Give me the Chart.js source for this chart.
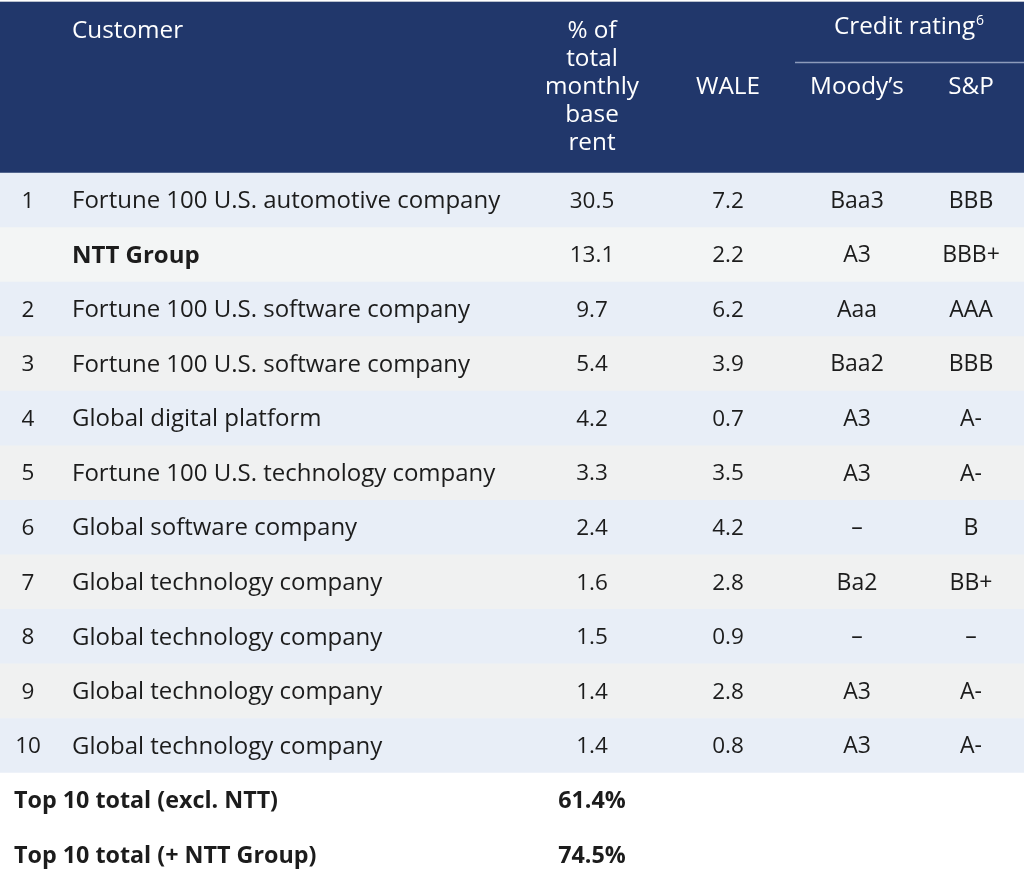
<!DOCTYPE html>
<html>
<head>
<meta charset="utf-8">
<script src="https://cdn.jsdelivr.net/npm/chart.js@4"></script>
<style>
  html, body { margin: 0; padding: 0; background: #ffffff; }
  #wrap { width: 1024px; height: 896px; }
</style>
</head>
<body>
<div id="wrap"><canvas id="c" width="1024" height="896"></canvas></div>
<script>
// ---------- DATA ----------
const ranks     = ['1', '', '2', '3', '4', '5', '6', '7', '8', '9', '10'];
const customers = [
  'Fortune 100 U.S. automotive company',
  'NTT Group',
  'Fortune 100 U.S. software company',
  'Fortune 100 U.S. software company',
  'Global digital platform',
  'Fortune 100 U.S. technology company',
  'Global software company',
  'Global technology company',
  'Global technology company',
  'Global technology company',
  'Global technology company'
];
const pctRent   = ['30.5', '13.1', '9.7', '5.4', '4.2', '3.3', '2.4', '1.6', '1.5', '1.4', '1.4'];
const wale      = ['7.2', '2.2', '6.2', '3.9', '0.7', '3.5', '4.2', '2.8', '0.9', '2.8', '0.8'];
const moodys    = ['Baa3', 'A3', 'Aaa', 'Baa2', 'A3', 'A3', '\u2013', 'Ba2', '\u2013', 'A3', 'A3'];
const sp        = ['BBB', 'BBB+', 'AAA', 'BBB', 'A-', 'A-', 'B', 'BB+', '\u2013', 'A-', 'A-'];
const boldRows  = ['NTT Group'];
const totalLabels = ['Top 10 total (excl. NTT)', 'Top 10 total (+ NTT Group)'];
const totalValues = ['61.4%', '74.5%'];
const headCustomer = 'Customer';
const headPct      = ['% of', 'total', 'monthly', 'base', 'rent'];
const headWale     = 'WALE';
const headCredit   = 'Credit rating';
const headCreditSup = '6';
const headMoodys   = 'Moody\u2019s';
const headSP       = 'S&P';

// ---------- LAYOUT / STYLE ----------
const ROW_PX = 54.55;      // pixel height of one row
const HEAD_TOP_PX = 2;
const HEAD_BOT_PX = 173;
const W = 1024, H = 896;
const NAVY = '#21376b';
const BLUE = '#e8eef7';
const GREY = '#f0f1f1';
const GREY_NTT = '#f3f5f5';
const TEXT = '#1c1c1c';
const FONT = '"Open Sans", Lato, sans-serif';
const FS_HEAD = 24.3, FS_TEXT = 24, FS_NUM = 22.5, FS_RATE = 23, FS_TOT = 23.3, FS_SUP = 14;
const col = { rank: 28, cust: 72, pct: 592, wale: 728, moody: 857, sp: 971, totLabel: 14, credit: 909, lineL: 795, lineR: 1024 };

const nRows = customers.length + totalLabels.length;
const rowColors = [];
for (let i = 0; i < nRows; i++) {
  if (i >= customers.length) rowColors.push('#ffffff');
  else if (i % 2 === 0) rowColors.push(BLUE);
  else rowColors.push(i === 1 ? GREY_NTT : GREY);
}
const bandData = [];
for (let i = 0; i < nRows; i++) bandData.push({ y: i + 0.5, x: [0, W] });

const tablePlugin = {
  id: 'tableText',
  beforeDatasetsDraw(chart) {
    const { ctx, scales: { x, y } } = chart;
    ctx.save();
    const yTop = y.getPixelForValue((HEAD_TOP_PX - HEAD_BOT_PX) / ROW_PX);
    const yBot = y.getPixelForValue(0);
    const x0 = x.getPixelForValue(0), x1 = x.getPixelForValue(W);
    ctx.fillStyle = '#b9c0cd';
    ctx.fillRect(x0, yTop - 1, x1 - x0, 1);
    ctx.fillStyle = NAVY;
    ctx.fillRect(x0, yTop, x1 - x0, yBot - yTop);
    ctx.restore();
  },
  afterDatasetsDraw(chart) {
    const { ctx, scales: { x, y } } = chart;
    const hy = v => y.getPixelForValue((v - HEAD_BOT_PX) / ROW_PX);
    const f = (w, s) => w + ' ' + s + 'px ' + FONT;
    ctx.save();
    ctx.textBaseline = 'middle';
    // header text
    ctx.fillStyle = '#ffffff';
    ctx.font = f(500, FS_HEAD);
    ctx.textAlign = 'left';
    ctx.fillText(headCustomer, x.getPixelForValue(col.cust), hy(31));
    ctx.textAlign = 'center';
    headPct.forEach((t, k) => ctx.fillText(t, x.getPixelForValue(col.pct), hy(31 + k * 28)));
    ctx.fillText(headWale, x.getPixelForValue(col.wale), hy(87));
    ctx.fillText(headMoodys, x.getPixelForValue(col.moody), hy(87));
    ctx.fillText(headSP, x.getPixelForValue(col.sp), hy(87));
    const wMain = ctx.measureText(headCredit).width;
    ctx.font = f(500, FS_SUP);
    const wSup = ctx.measureText(headCreditSup).width;
    const startX = x.getPixelForValue(col.credit) - (wMain + wSup + 1) / 2;
    ctx.textAlign = 'left';
    ctx.font = f(500, FS_HEAD);
    ctx.fillText(headCredit, startX, hy(27));
    ctx.font = f(500, FS_SUP);
    ctx.fillText(headCreditSup, startX + wMain + 1, hy(21));
    ctx.strokeStyle = '#8d9bbb';
    ctx.lineWidth = 1.5;
    ctx.beginPath();
    ctx.moveTo(x.getPixelForValue(col.lineL), hy(62.5));
    ctx.lineTo(x.getPixelForValue(col.lineR), hy(62.5));
    ctx.stroke();

    // body
    ctx.fillStyle = TEXT;
    customers.forEach((c, i) => {
      const py = y.getPixelForValue(i + 0.5) + 1;
      const bold = boldRows.includes(c);
      ctx.font = f(400, FS_NUM);
      ctx.textAlign = 'center';
      ctx.fillText(ranks[i], x.getPixelForValue(col.rank), py);
      ctx.font = f(bold ? 700 : 400, FS_TEXT);
      ctx.textAlign = 'left';
      ctx.fillText(c, x.getPixelForValue(col.cust), py);
      ctx.font = f(400, FS_NUM);
      ctx.textAlign = 'center';
      ctx.fillText(pctRent[i], x.getPixelForValue(col.pct), py);
      ctx.fillText(wale[i], x.getPixelForValue(col.wale), py);
      ctx.font = f(400, FS_RATE);
      ctx.fillText(moodys[i], x.getPixelForValue(col.moody), py);
      ctx.fillText(sp[i], x.getPixelForValue(col.sp), py);
    });
    totalLabels.forEach((t, k) => {
      const py = y.getPixelForValue(customers.length + k + 0.5) + 1;
      ctx.font = f(700, FS_TOT);
      ctx.textAlign = 'left';
      ctx.fillText(t, x.getPixelForValue(col.totLabel), py);
      ctx.textAlign = 'center';
      ctx.fillText(totalValues[k], x.getPixelForValue(col.pct), py);
    });
    ctx.restore();
  }
};

new Chart(document.getElementById('c'), {
  type: 'bar',
  data: {
    datasets: [{
      label: 'rows',
      data: bandData,
      backgroundColor: rowColors,
      borderWidth: 0,
      categoryPercentage: 1,
      barPercentage: 1
    }]
  },
  options: {
    indexAxis: 'y',
    responsive: false,
    animation: false,
    devicePixelRatio: 1,
    layout: { padding: 0 },
    plugins: { legend: { display: false }, tooltip: { enabled: false }, title: { display: false } },
    scales: {
      x: { type: 'linear', display: false, offset: false, min: 0, max: W, grid: { display: false } },
      y: {
        type: 'linear', display: false, reverse: true, offset: false,
        min: -HEAD_BOT_PX / ROW_PX, max: (H - HEAD_BOT_PX) / ROW_PX,
        grid: { display: false },
        afterBuildTicks: s => { s.ticks = s.ticks.filter(t => Number.isInteger(t.value)); }
      }
    }
  },
  plugins: [tablePlugin]
});
</script>
</body>
</html>
